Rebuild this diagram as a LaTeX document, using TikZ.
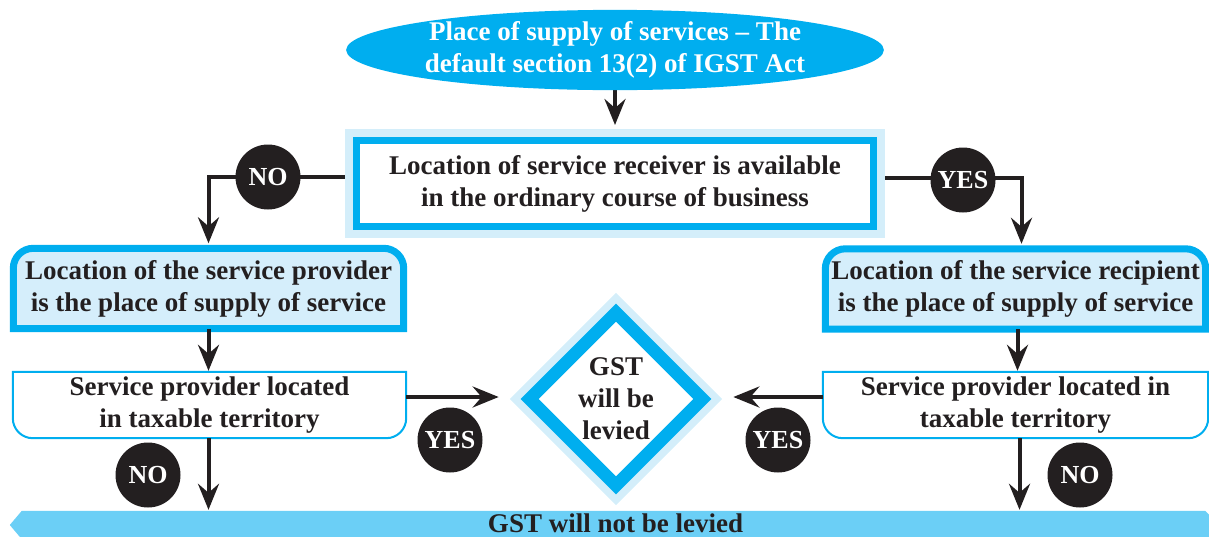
\documentclass[tikz,border=0pt]{standalone}
\usepackage{fontspec}
\setmainfont{Liberation Serif}
\usetikzlibrary{arrows.meta,shapes.geometric,backgrounds}
\definecolor{cyanC}{HTML}{00AEEF}
\definecolor{haloC}{HTML}{D4EEFA}
\definecolor{lightC}{HTML}{D5EEFB}
\definecolor{barC}{HTML}{6BCFF6}
\definecolor{darkC}{HTML}{231F20}
\tikzset{
  txt/.style={font=\fontsize{27}{32}\selectfont\bfseries, text=darkC, align=center, inner sep=0pt},
  arr/.style={draw=darkC, line width=4pt, -{Stealth[length=26pt,width=21pt,inset=9pt]}},
  badge/.style={circle, fill=darkC, minimum size=65pt, inner sep=0pt, text=white, font=\fontsize{26}{30}\selectfont\bfseries},
  topframe/.style={draw=cyanC, line width=7pt, fill=lightC},
  botframe/.style={draw=cyanC, line width=2pt, fill=white},
}
\begin{document}
\begin{tikzpicture}[x=1pt,y=-1pt]
\useasboundingbox (0,0) rectangle (1209,536);
\clip (0,0) rectangle (1209,536);

% top ellipse
\node[ellipse, fill=cyanC, minimum width=524pt, minimum height=80pt, inner sep=0pt, txt, text=white] (e) at (615,50)
  {Place of supply of services -- The\\default section 13(2) of IGST Act};

% question box
\node[txt, draw=cyanC, line width=7pt, fill=white, preaction={draw=haloC, line width=23pt},
      minimum width=517pt, minimum height=86pt] (q) at (615,183.5)
  {Location of service receiver is available\\in the ordinary course of business};

% result boxes
\node[txt, minimum width=390pt, minimum height=80pt] (lp) at (208.5,288.5)
  {Location of the service provider\\is the place of supply of service};
\node[txt, minimum width=380pt, minimum height=80pt] (rr) at (1015.5,289)
  {Location of the service recipient\\is the place of supply of service};

\node[txt, minimum width=393pt, minimum height=66pt] (lt) at (209.5,405)
  {Service provider located\\in taxable territory};
\node[txt, minimum width=385pt, minimum height=66pt] (rt) at (1015.5,405)
  {Service provider located in\\taxable territory};

% diamond
\node[diamond, txt, minimum width=178pt, minimum height=178pt, draw=cyanC, line width=12.7pt, fill=white,
      preaction={draw=haloC, line width=28pt}] (d) at (616,399)
  {GST\\will be\\levied};

% bottom bar
\node[minimum width=1187pt, minimum height=28pt, inner sep=0pt] (bar) at (615.5,525) {};
\node[txt] (bartext) at (615.5,523) {GST will not be levied};

\begin{pgfonlayer}{background}
  \fill[barC] ([xshift=-4pt]bar.north east) -- ([yshift=-4pt]bar.north east) -- (bar.south east)
    -- (bar.south west) -- ([xshift=-12pt]bar.west) -- (bar.north west) -- cycle;
  % frames
  \path[topframe] (lp.south west) -- ([yshift=-20pt]lp.north west) arc[start angle=180,end angle=90,radius=20pt]
    -- ([xshift=-20pt]lp.north east) arc[start angle=90,end angle=0,radius=20pt] -- (lp.south east) -- cycle;
  \path[topframe] (rr.south west) -- ([yshift=-20pt]rr.north west) arc[start angle=180,end angle=90,radius=20pt]
    -- ([xshift=-20pt]rr.north east) arc[start angle=90,end angle=0,radius=20pt] -- (rr.south east) -- cycle;
  \path[botframe] (lt.north west) -- ([yshift=20pt]lt.south west) arc[start angle=180,end angle=270,radius=20pt]
    -- ([xshift=-20pt]lt.south east) arc[start angle=270,end angle=360,radius=20pt] -- (lt.north east) -- cycle;
  \path[botframe] (rt.north west) -- ([yshift=20pt]rt.south west) arc[start angle=180,end angle=270,radius=20pt]
    -- ([xshift=-20pt]rt.south east) arc[start angle=270,end angle=360,radius=20pt] -- (rt.north east) -- cycle;
  % connectors
  \draw[arr, shorten >=12pt] (e.south) -- (q.north);
  \draw[arr] ([yshift=7pt]q.west) -| ([yshift=5pt]lp.north);
  \draw[arr] ([yshift=6pt]q.east) -| ([xshift=6pt,yshift=5pt]rr.north);
  \draw[arr, shorten >=1pt] (lp.south) -- (lp.south |- lt.north);
  \draw[arr, shorten >=1pt] ([xshift=2pt]rr.south) -- ([xshift=2pt]rr.south |- rt.north);
  \draw[arr, shorten >=1pt] ([xshift=-1pt]lt.south) -- ([xshift=-1pt]lt.south |- bar.north);
  \draw[arr, shorten >=1pt] ([xshift=4pt]rt.south) -- ([xshift=4pt]rt.south |- bar.north);
  \draw[arr, shorten >=22pt] ([yshift=2pt]lt.east |- d.west) -- ([yshift=2pt]d.west);
  \draw[arr, shorten >=22pt] ([yshift=2pt]rt.west |- d.east) -- ([yshift=2pt]d.east);
\end{pgfonlayer}

% badges
\node[badge] (no1) at (268,177) {NO};
\node[badge] (yes1) at (963,180) {YES};
\node[badge] (yes2) at (450,440) {YES};
\node[badge] (yes3) at (778,440) {YES};
\node[badge] (no2) at (148,475) {NO};
\node[badge] (no3) at (1080,475) {NO};
\end{tikzpicture}
\end{document}
